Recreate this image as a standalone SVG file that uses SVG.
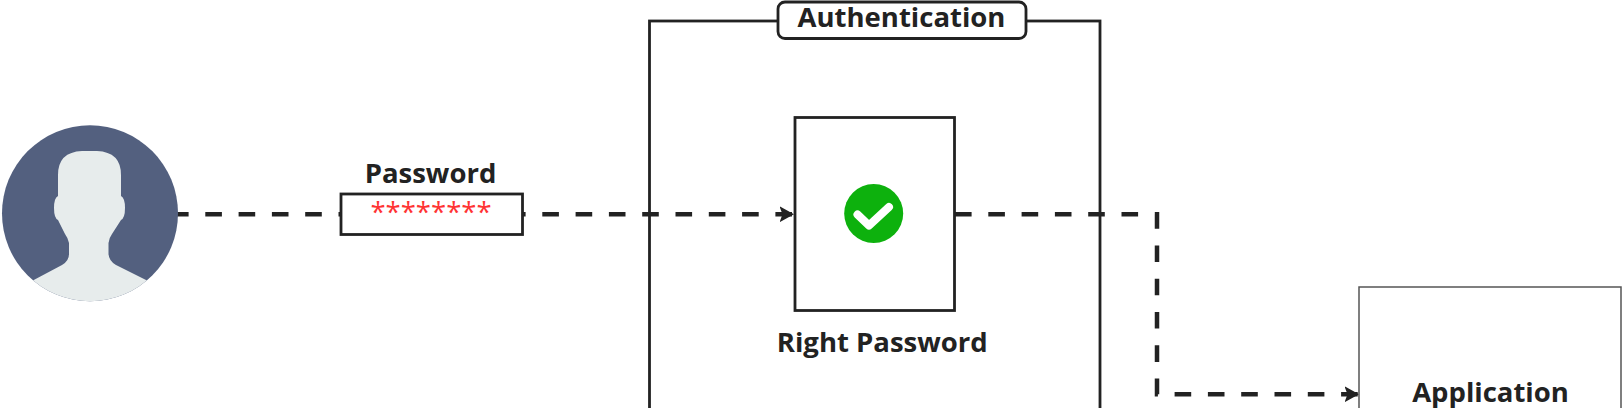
<svg xmlns="http://www.w3.org/2000/svg" width="1624" height="408" viewBox="0 0 1624 408">
<style>
.lbl{font-family:"Open Sans","Liberation Sans",sans-serif;font-weight:700;fill:#222;text-anchor:middle;font-size:27.500px}
.box{fill:#fff;stroke:#222;stroke-width:2.800}
.dash{fill:none;stroke:#222;stroke-width:4.500;stroke-dasharray:16.6 16.7}
</style>
<defs>
<marker id="arrow" markerUnits="userSpaceOnUse" markerWidth="16" markerHeight="18" refX="14" refY="8" orient="auto" viewBox="0 0 16 16">
<path d="M0 0L14.500 8L0 16L3 8Z" fill="#222"/>
</marker>
<clipPath id="disc"><circle cx="90" cy="213.300" r="88"/></clipPath>
</defs>
<rect width="1624" height="408" fill="#fff"/>
<g id="authentication">
<rect class="box" x="649.500" y="21" width="450.500" height="400"/>
<rect class="box" x="778" y="2" width="248" height="36.500" rx="7"/>
<text class="lbl" x="901.500" y="27">Authentication</text>
</g>
<g id="connectors">
<path class="dash" d="M172 214.300H340"/>
<path class="dash" d="M509 214.300H793.500" marker-end="url(#arrow)"/>
<path class="dash" d="M955 214.300H1157V394.300H1358.500" marker-end="url(#arrow)"/>
</g>
<g id="user">
<circle cx="90" cy="213.300" r="88" fill="#53607f"/>
<path clip-path="url(#disc)" d="M30 282L62 265Q69 261 69 254V243Q68 238 65 234L58 220Q54 218 54 208Q54 198 58 196V175Q58 152 82 151H97Q121 152 121 175V196Q125 198 125 208Q125 218 121 220L112 234Q109 238 108.500 243V254Q109 261 116 265L150 282V310H30Z" fill="#e7ecec"/>
</g>
<g id="password">
<text class="lbl" x="430.500" y="183">Password</text>
<rect class="box" x="341" y="194" width="181.500" height="40.500"/>
<text x="431" y="222" font-size="27.500" text-anchor="middle" fill="#f33" style="font-family:'Open Sans','Liberation Sans',sans-serif">********</text>
</g>
<g id="right-password">
<rect class="box" x="795" y="117.500" width="159.500" height="193"/>
<circle cx="873.700" cy="213.500" r="29.500" fill="#0db10d"/>
<path d="M857.500 214.500L869 225.500L889 207" fill="none" stroke="#fff" stroke-width="8" stroke-linejoin="round" stroke-linecap="round"/>
<text class="lbl" x="882.300" y="352">Right Password</text>
</g>
<g id="application">
<rect x="1359" y="287" width="262" height="160" fill="#fff" stroke="#555" stroke-width="1.500"/>
<text class="lbl" x="1490.500" y="402">Application</text>
</g>
</svg>
